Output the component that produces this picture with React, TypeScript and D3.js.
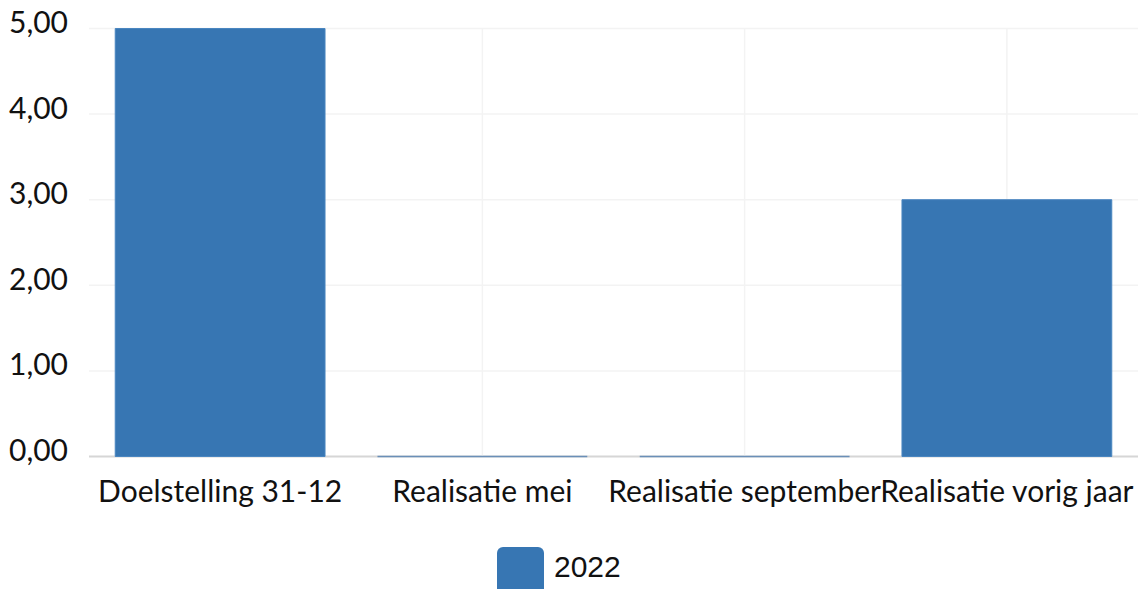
import React from "react";
import * as d3 from "d3";

const categories = ["Doelstelling 31-12", "Realisatie mei", "Realisatie september", "Realisatie vorig jaar"];
const values2022 = [5, 0, 0, 3];
const yTicks = [0, 1, 2, 3, 4, 5];
const seriesName = "2022";

const W = 1142;
const H = 589;
const M = { left: 89, right: 4, top: 28.5, bottom: 132.5 };
const BLUE = "#3776b3";

export default function App() {
  const x = d3
    .scaleBand<string>()
    .domain(categories)
    .range([M.left, W - M.right])
    .paddingInner(0.2)
    .paddingOuter(0.1);
  const y = d3.scaleLinear().domain([0, 5]).range([H - M.bottom, M.top]);
  const fmt = (v: number) => d3.format(".2f")(v).replace(".", ",");
  const y0 = y(0);

  return (
    <svg
      width={W}
      height={H}
      style={{ position: "absolute", left: 0, top: 0, background: "#fff" }}
      fontFamily="Lato, 'Open Sans', sans-serif"
    >
      {yTicks.map((t) => (
        <line
          key={"h" + t}
          x1={M.left}
          x2={W - M.right}
          y1={y(t)}
          y2={y(t)}
          stroke={t === 0 ? "#d6d6d6" : "#f3f3f3"}
          strokeWidth={t === 0 ? 2 : 1.5}
        />
      ))}
      {categories.map((c) => (
        <line
          key={"v" + c}
          x1={(x(c) as number) + x.bandwidth() / 2}
          x2={(x(c) as number) + x.bandwidth() / 2}
          y1={M.top}
          y2={y0 - 1}
          stroke="#f3f3f3"
          strokeWidth={1.5}
        />
      ))}
      {categories.map((c, i) => {
        const x0 = x(c) as number;
        const x1 = x0 + x.bandwidth();
        const yt = y(values2022[i]);
        const p = d3.path();
        p.moveTo(x0, y0);
        p.lineTo(x0, yt);
        p.lineTo(x1, yt);
        p.lineTo(x1, y0);
        p.closePath();
        return (
          <path
            key={"b" + c}
            d={p.toString()}
            fill={BLUE}
            stroke={values2022[i] === 0 ? "#6a8fb8" : "#4a86c0"}
            strokeWidth={values2022[i] === 0 ? 1.5 : 1}
          />
        );
      })}
      {yTicks.map((t) => (
        <text
          key={"yl" + t}
          x={68}
          y={y(t) - 3}
          textAnchor="end"
          dominantBaseline="middle"
          fontSize={30}
          fill="#111"
        >
          {fmt(t)}
        </text>
      ))}
      {categories.map((c) => (
        <text
          key={"xl" + c}
          x={(x(c) as number) + x.bandwidth() / 2}
          y={502}
          textAnchor="middle"
          fontSize={30}
          fill="#111"
        >
          {c}
        </text>
      ))}
      <rect x={497} y={547} width={47} height={47} rx={6} fill={BLUE} />
      <text x={554} y={577} fontSize={30} fill="#111" fontFamily="'Liberation Sans', Arial, sans-serif">
        {seriesName}
      </text>
    </svg>
  );
}
